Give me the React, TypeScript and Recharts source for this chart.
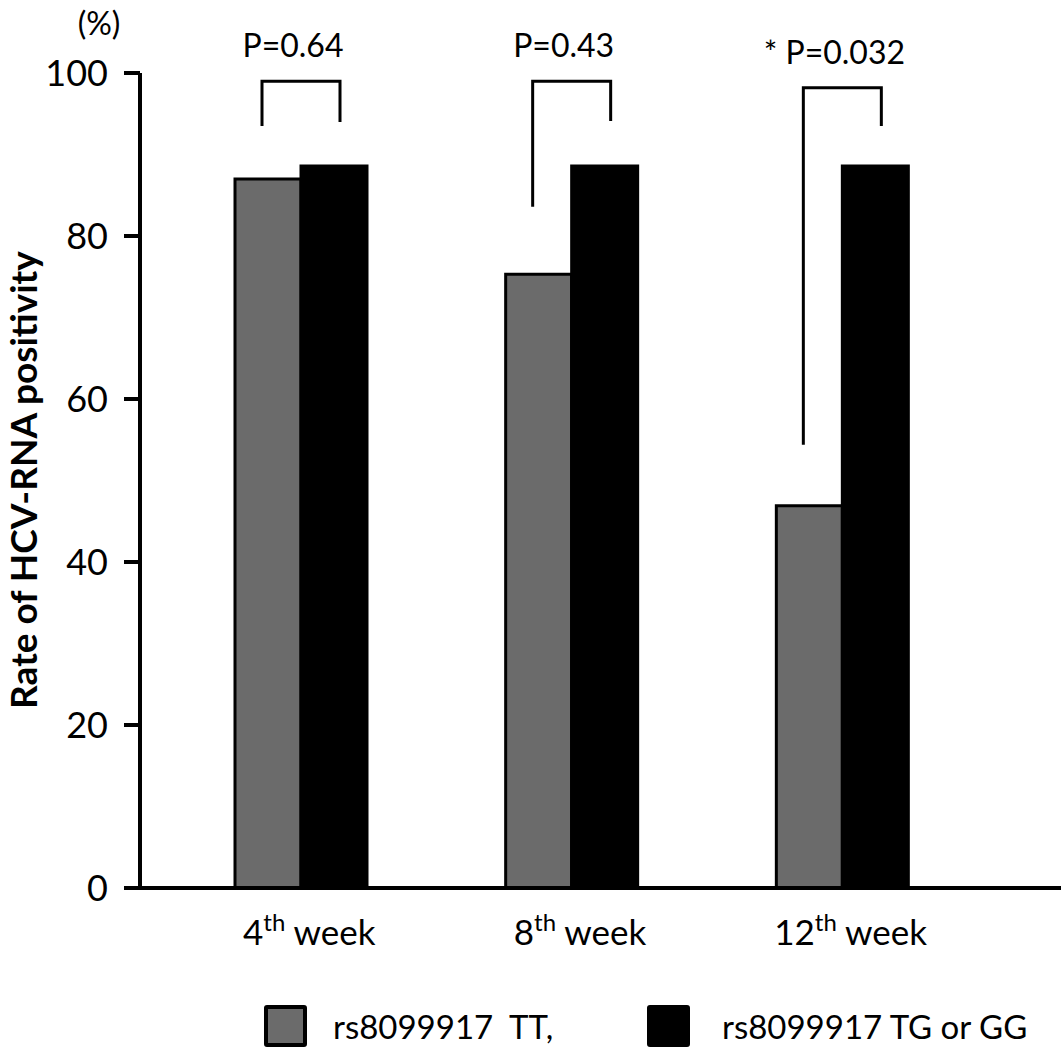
import { BarChart, Bar, XAxis, YAxis, Legend, Rectangle } from 'recharts'

const weeks = ['4th', '8th', '12th']
const ttRates = [87.0, 75.3, 46.9]
const tgGgRates = [88.6, 88.6, 88.6]
const pLabels = ['P=0.64', 'P=0.43', '* P=0.032']
const bracketTop = [99.0, 99.0, 98.2]
const bracketLeftEnd = [93.5, 83.6, 54.4]
const bracketRightEnd = [94.0, 94.1, 93.5]
const yTicks = [0, 20, 40, 60, 80, 100]

const FONT = 'Lato, "Open Sans", sans-serif'

const data = weeks.map((week, i) => ({
  week,
  tt: ttRates[i],
  tg: tgGgRates[i],
  p: pLabels[i],
  top: bracketTop[i],
  leftEnd: bracketLeftEnd[i],
  rightEnd: bracketRightEnd[i],
}))

function WeekTick({ x, y, payload }: any) {
  const m = String(payload.value).match(/^(\d+)(\D+)$/)
  const num = m ? m[1] : payload.value
  const suf = m ? m[2] : ''
  return (
    <text x={x + 8} y={y + 57} textAnchor="middle" fontSize={35} fontFamily={FONT} fill="#000">
      {num}
      <tspan dy={-14} fontSize={24}>{suf}</tspan>
      <tspan dy={14}> week</tspan>
    </text>
  )
}

// black bar + the significance bracket drawn above each pair
function BarWithBracket(props: any) {
  const { x, y, width, height, payload } = props
  const base = y + height
  const k = height / payload.tg
  const py = (v: number) => base - v * k
  const lx = x - width / 2 - 6
  const rx = x + width / 2 + 6
  return (
    <g>
      <Rectangle {...props} />
      <path
        d={`M${lx},${py(payload.leftEnd)} V${py(payload.top)} H${rx} V${py(payload.rightEnd)}`}
        stroke="#000"
        strokeWidth={3}
        fill="none"
      />
      <text
        x={(lx + rx) / 2 - 8}
        y={py(payload.top) - 24}
        textAnchor="middle"
        fontSize={32}
        fontFamily={FONT}
        fill="#000"
      >
        {payload.p}
      </text>
    </g>
  )
}

function AxisTitle() {
  return (
    <g>
      <text
        transform="translate(37,480) rotate(-90)"
        textAnchor="middle"
        fontSize={37}
        fontWeight={700}
        fontFamily={FONT}
        fill="#000"
      >
        Rate of HCV-RNA positivity
      </text>
      <text x={99} y={35} textAnchor="middle" fontSize={32} fontFamily={FONT} fill="#000">
        (%)
      </text>
    </g>
  )
}

function LegendBox({ payload }: any) {
  const lefts = [264, 647]
  return (
    <div style={{ position: 'relative', height: 50, fontFamily: FONT }}>
      {(payload ?? []).map((entry: any, i: number) => (
        <div
          key={i}
          style={{ position: 'absolute', left: lefts[i], top: 5, display: 'flex', alignItems: 'center' }}
        >
          <span
            style={{
              width: 43,
              height: 42,
              boxSizing: 'border-box',
              border: '4px solid #000',
              borderRadius: 3,
              background: entry.color,
              display: 'inline-block',
            }}
          />
          <span style={{ marginLeft: i === 0 ? 26 : 32, fontSize: 33, whiteSpace: 'pre', color: '#000' }}>
            {entry.value}
          </span>
        </div>
      ))}
    </div>
  )
}

export default function App() {
  return (
    <div style={{ position: 'absolute', left: 0, top: 0, background: '#fff' }}>
      <BarChart
        width={1063}
        height={1049}
        data={data}
        margin={{ top: 73, right: 2, left: 0, bottom: 0 }}
        barGap={0}
        barSize={66}
      >
        <XAxis
          dataKey="week"
          height={161}
          axisLine={{ stroke: '#000', strokeWidth: 4 }}
          tickLine={false}
          tickSize={0}
          tickMargin={0}
          padding={{ left: 26, right: 83 }}
          tick={<WeekTick />}
          interval={0}
        />
        <YAxis
          width={140}
          domain={[0, 100]}
          ticks={yTicks}
          interval={0}
          axisLine={{ stroke: '#000', strokeWidth: 4 }}
          tickLine={{ stroke: '#000', strokeWidth: 4 }}
          tickSize={16}
          tickMargin={16}
          tick={{ fontSize: 36, fontFamily: FONT, fill: '#000' }}
          label={{ content: () => <AxisTitle /> }}
        />
        <Bar
          dataKey="tt"
          name="rs8099917  TT,"
          fill="#6b6b6b"
          stroke="#000"
          strokeWidth={3}
          isAnimationActive={false}
        />
        <Bar
          dataKey="tg"
          name="rs8099917 TG or GG"
          fill="#000"
          stroke="#000"
          strokeWidth={3}
          shape={<BarWithBracket />}
          isAnimationActive={false}
        />
        <Legend
          layout="horizontal"
          verticalAlign="middle"
          align="center"
          wrapperStyle={{ top: 1000, left: 0, width: 1063, height: 50 }}
          content={<LegendBox />}
        />
      </BarChart>
    </div>
  )
}
